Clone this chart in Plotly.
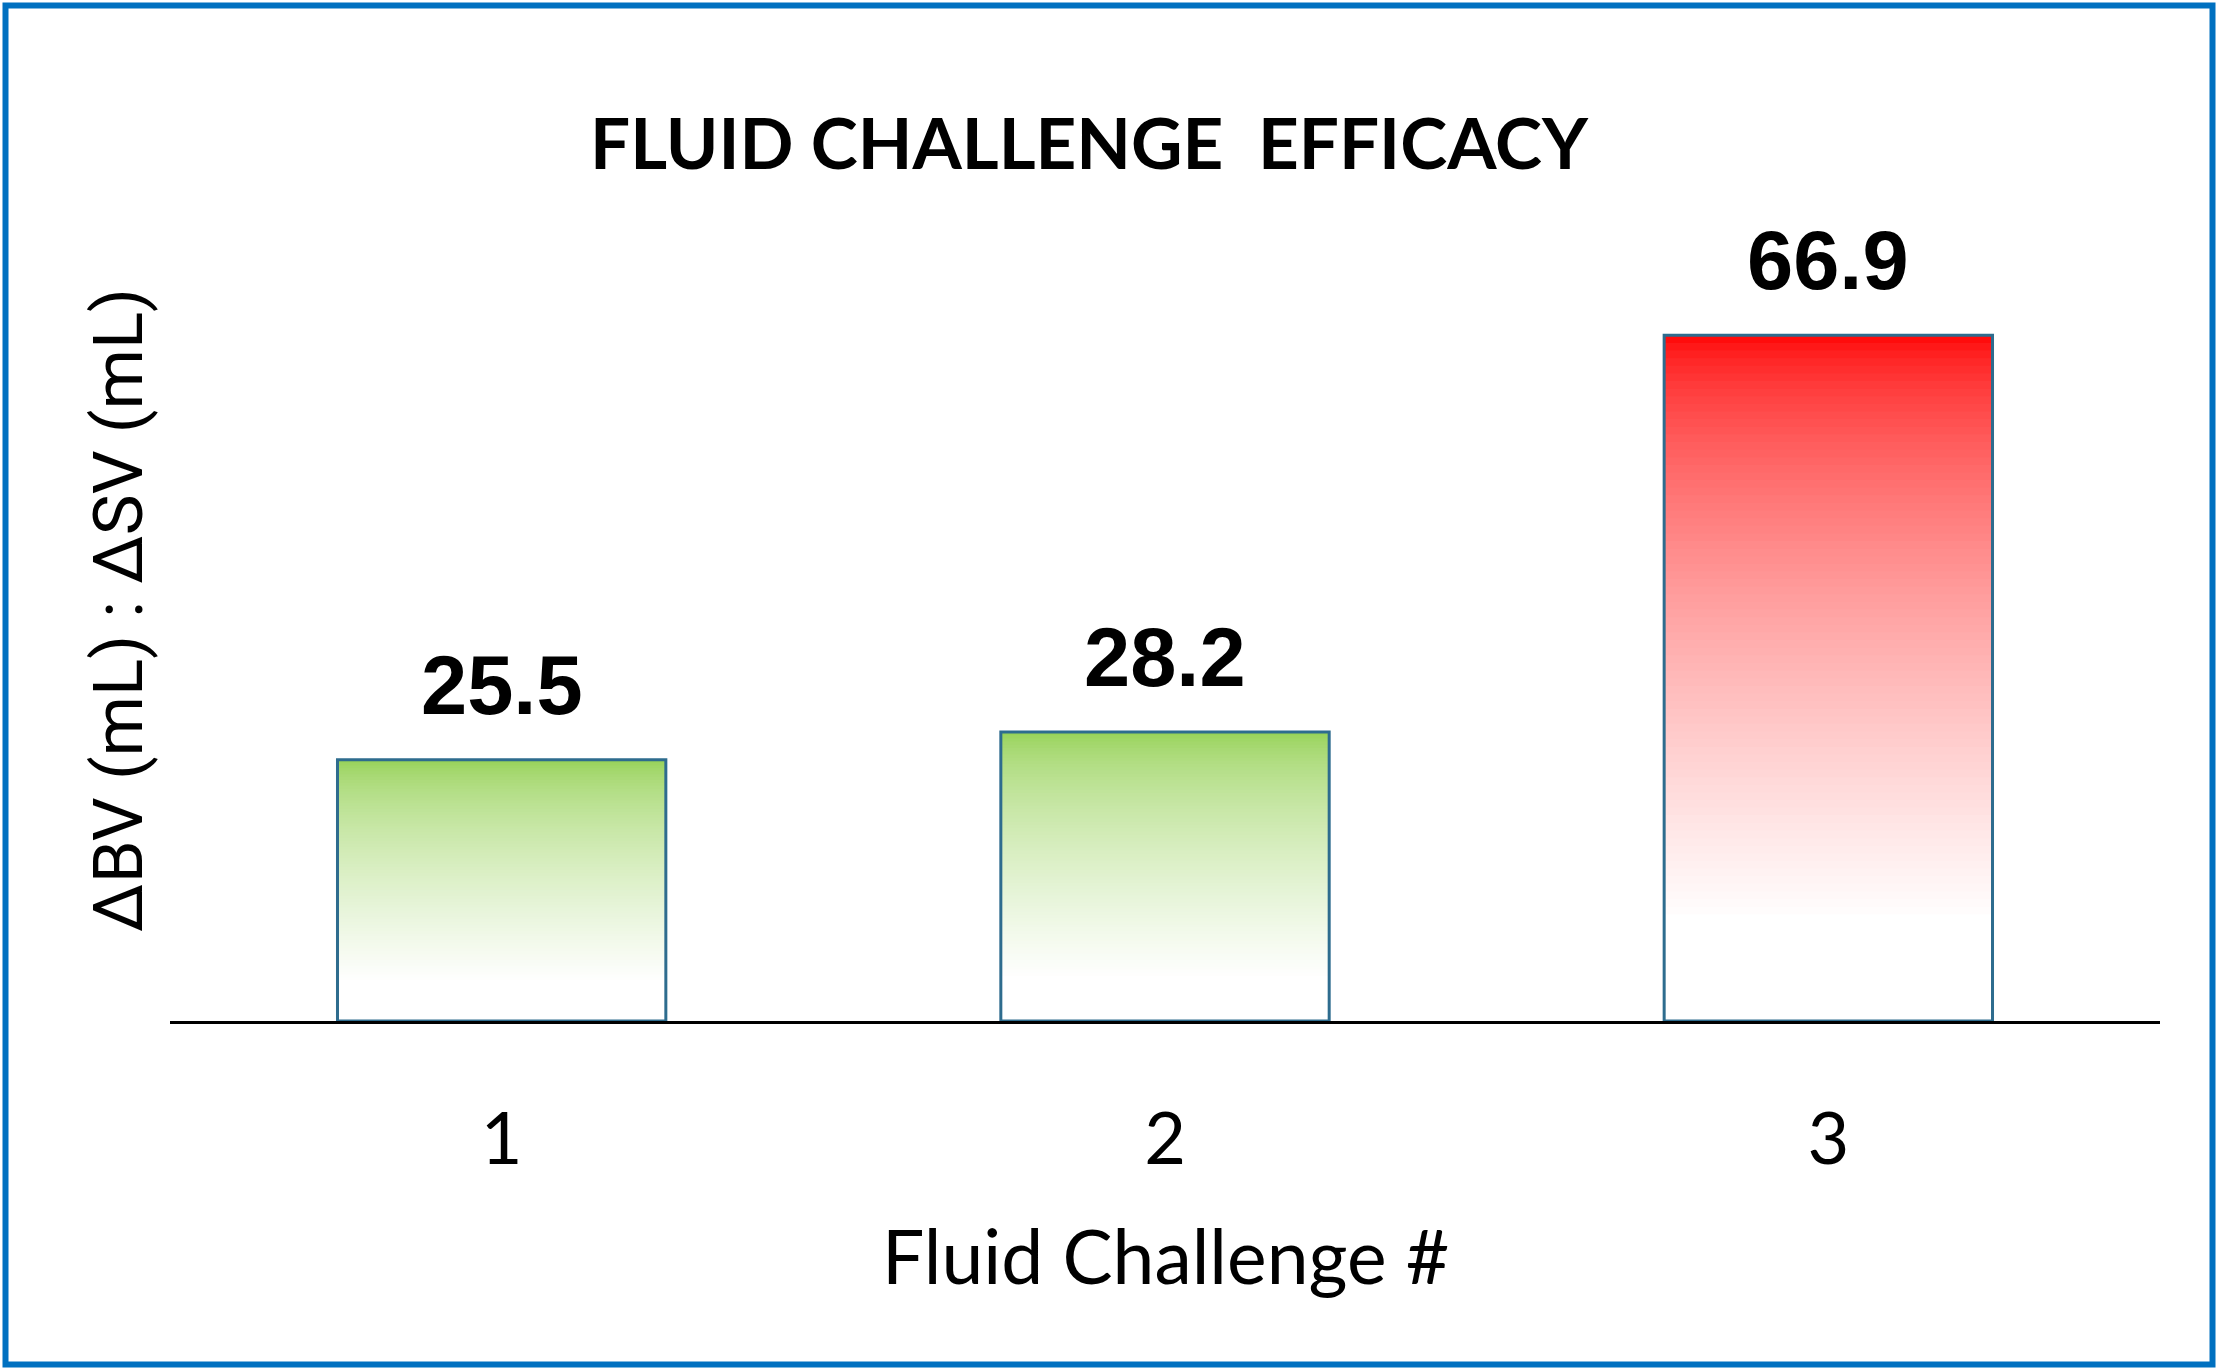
import plotly.graph_objects as go

# ---- data ----
categories = ["1", "2", "3"]
values = [25.5, 28.2, 66.9]
bar_top_colors = ["#92D050", "#92D050", "#FF0000"]
title_text = "FLUID CHALLENGE  EFFICACY"
x_title = "Fluid Challenge #"
y_title = "ΔBV (mL) : ΔSV (mL)"

# ---- layout constants (px) ----
W, H = 2218, 1370
ML, MR, MT, MB = 170, 58, 199, 349
PW, PH = W - ML - MR, H - MT - MB
YMAX = 80.2


def hex2rgb(h):
    h = h.lstrip("#")
    return tuple(int(h[i:i + 2], 16) for i in (0, 2, 4))


def grad(top_hex, f):
    """colour at fraction f (0=top,1=bottom) of a bar, fading to white"""
    t = min(f / 0.85, 1.0) ** 0.6
    r, g, b = hex2rgb(top_hex)
    return "rgb(%d,%d,%d)" % (r + (255 - r) * t, g + (255 - g) * t, b + (255 - b) * t)


fig = go.Figure()
N = 90
for k in range(N):
    frac = 1 - k / N
    fig.add_trace(go.Bar(
        x=categories,
        y=[v * frac for v in values],
        marker=dict(color=[grad(c, (k + 0.5) / N) for c in bar_top_colors],
                    line=dict(width=0)),
        hoverinfo="skip",
        showlegend=False,
    ))

# outline
fig.add_trace(go.Bar(
    x=categories,
    y=values,
    marker=dict(color="rgba(0,0,0,0)", line=dict(color="#2E6C8E", width=3)),
    showlegend=False,
))

# value labels (x given as category index)
for i, v in enumerate(values):
    fig.add_annotation(x=i, y=v, text=f"{v:.1f}", showarrow=False,
                       yanchor="bottom", yshift=26,
                       font=dict(family="Liberation Sans, Arial", size=83, color="black", weight="bold"))

# axis titles
fig.add_annotation(xref="paper", yref="paper", x=(1165 - ML) / PW, y=-(1255 - (H - MB)) / PH,
                   text=x_title, showarrow=False, xanchor="center", yanchor="middle",
                   font=dict(family="Lato", size=75, color="black"))
fig.add_annotation(xref="paper", yref="paper", x=(118 - ML) / PW, y=0.5,
                   text=y_title, textangle=-90, showarrow=False, xanchor="center", yanchor="middle",
                   font=dict(family="Roboto", size=69, color="black"))

# outer border
fig.add_shape(type="rect", xref="paper", yref="paper",
              x0=(5.5 - ML) / PW, x1=(W - 5.5 - ML) / PW,
              y0=-(MB - 5.5) / PH, y1=1 + (MT - 5.5) / PH,
              line=dict(color="#0070C0", width=6), fillcolor="rgba(0,0,0,0)")

fig.update_layout(
    width=W, height=H,
    margin=dict(l=ML, r=MR, t=MT, b=MB),
    paper_bgcolor="white", plot_bgcolor="white",
    barmode="overlay", bargap=0.505,
    title=dict(text=title_text, x=1089 / W, y=1 - 144 / H, xanchor="center", yanchor="middle",
               font=dict(family="Lato", size=71, color="black", weight="bold")),
    xaxis=dict(type="category", range=[-0.5, len(categories) - 0.5],
               showline=True, linecolor="black", linewidth=2.5, ticks="",
               showgrid=False, zeroline=False,
               tickfont=dict(family="Lato", size=72, color="black"),
               ticklabelstandoff=54),
    yaxis=dict(range=[0, YMAX], visible=False, showgrid=False, zeroline=False),
)

fig.write_html("out.html", config={"displayModeBar": False},
               post_script="document.body.style.margin='0';document.body.style.overflow='hidden';")
